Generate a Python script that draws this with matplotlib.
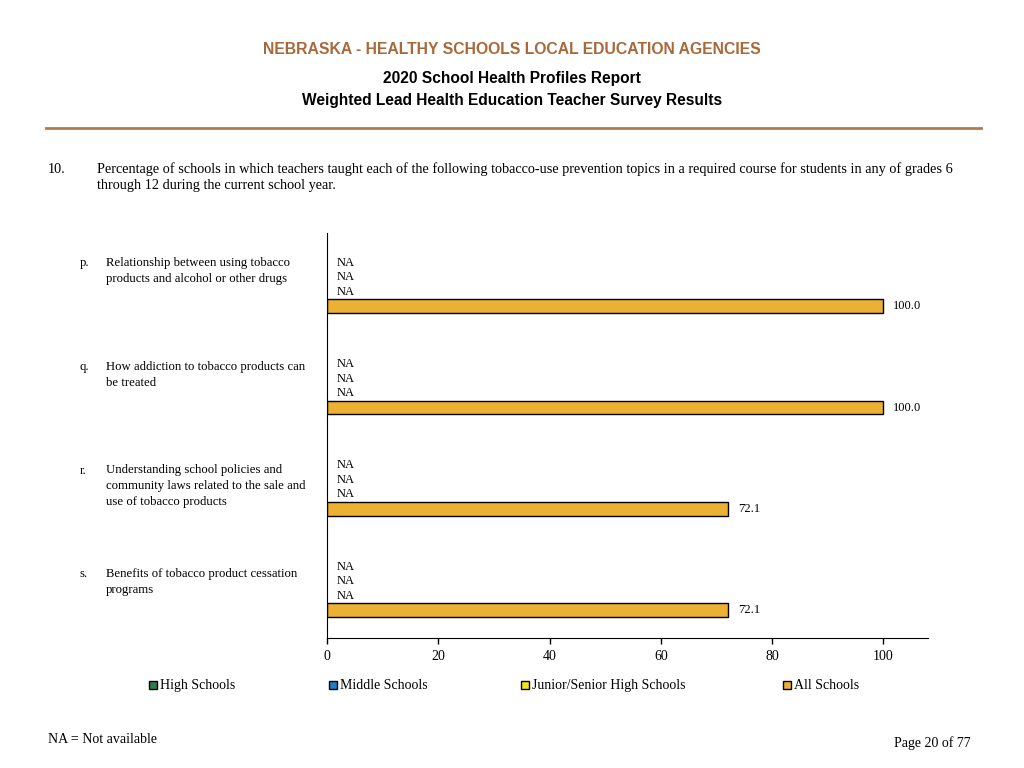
import numpy as np
import matplotlib.pyplot as plt
from matplotlib.patches import Rectangle

# data
letters = ['p.', 'q.', 'r.', 's.']
topics = ['Relationship between using tobacco\nproducts and alcohol or other drugs',
          'How addiction to tobacco products can\nbe treated',
          'Understanding school policies and\ncommunity laws related to the sale and\nuse of tobacco products',
          'Benefits of tobacco product cessation\nprograms']
series = ['High Schools', 'Middle Schools', 'Junior/Senior High Schools', 'All Schools']
high_schools = [None, None, None, None]
middle_schools = [None, None, None, None]
junior_senior = [None, None, None, None]
all_schools = [100.0, 100.0, 72.1, 72.1]
colors = ['#2e7d4f', '#1f7fc0', '#f2e41e', '#ecb033']

serif = 'Liberation Serif'
sans = 'Liberation Sans'
brown = '#a8693a'

fig = plt.figure(figsize=(10.24, 7.68), dpi=100)
ax = fig.add_axes([327/1024, 1-638/768, (928-327)/1024, (638-233)/768])

values = [high_schools, middle_schools, junior_senior, all_schools]
for s, vals in enumerate(values):
    for g, v in enumerate(vals):
        y = g*7 + s
        if v is None:
            ax.text(1.7, y, 'NA', va='center', ha='left', fontsize=9, family=serif)
        else:
            ax.barh(y, v, height=0.95, color=colors[s], edgecolor='black', linewidth=1)
            ax.text(v + 1.7, y, '%.1f' % v, va='center', ha='left', fontsize=9, family=serif)

ax.set_xlim(0, 108)
ax.set_ylim(25.93, -2.07)
ax.set_xticks([0, 20, 40, 60, 80, 100])
ax.set_xticklabels(['0', '20', '40', '60', '80', '100'], family=serif, fontsize=10)
ax.tick_params(axis='x', length=4, width=1, pad=5)
ax.set_yticks([])
ax.spines['top'].set_visible(False)
ax.spines['right'].set_visible(False)

# question labels (page layout, slightly looser spacing than the bar groups)
for g in range(4):
    ytop = 1 - (257.5 + g*103.5)/768
    nl = topics[g].count('\n')
    # pad the letter so both texts get the same line layout
    fig.text(80/1024, ytop, letters[g] + '\n' * nl, va='top', ha='left', fontsize=9.2,
             family=serif, linespacing=1.4)
    fig.text(106/1024, ytop, topics[g], va='top', ha='left', fontsize=9.2, family=serif, linespacing=1.4)

# header
fig.text(0.5, 1-50/768, 'NEBRASKA - HEALTHY SCHOOLS LOCAL EDUCATION AGENCIES', ha='center', va='center',
         color=brown, fontsize=11.3, fontweight='bold', family=sans)
fig.text(0.5, 1-79/768, '2020 School Health Profiles Report', ha='center', va='center',
         fontsize=11.2, fontweight='bold', family=sans)
fig.text(0.5, 1-100/768, 'Weighted Lead Health Education Teacher Survey Results', ha='center', va='center',
         fontsize=11.2, fontweight='bold', family=sans)
fig.add_artist(plt.Line2D([46/1024, 981/1024], [1-128/768, 1-128/768], color='#b27a48', linewidth=2))

fig.text(48/1024, 1-173/768, '10.', va='baseline', ha='left', fontsize=10.3, family=serif)
fig.text(97/1024, 1-173/768, 'Percentage of schools in which teachers taught each of the following tobacco-use prevention topics in a required course for students in any of grades 6',
         va='baseline', ha='left', fontsize=10.3, family=serif)
fig.text(97/1024, 1-189/768, 'through 12 during the current school year.', va='baseline', ha='left', fontsize=10.3, family=serif)

# legend
leg_x = [149, 329, 521, 783]
for s in range(4):
    fig.add_artist(Rectangle((leg_x[s]/1024, 1-689/768), 8/1024, 8/768, facecolor=colors[s],
                             edgecolor='black', linewidth=1, transform=fig.transFigure))
    fig.text((leg_x[s]+11)/1024, 1-689/768, series[s], va='baseline', ha='left', fontsize=10, family=serif)

fig.text(48/1024, 1-743/768, 'NA = Not available', va='baseline', ha='left', fontsize=10, family=serif)
fig.text(971/1024, 1-747/768, 'Page 20 of 77', va='baseline', ha='right', fontsize=10, family=serif)

fig.savefig('out.png', dpi=100)
